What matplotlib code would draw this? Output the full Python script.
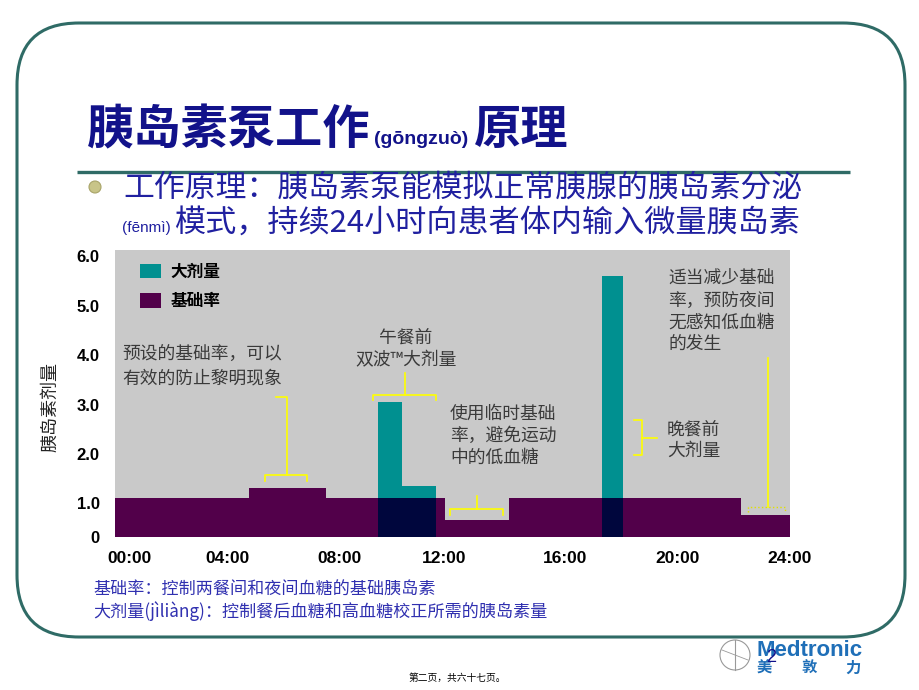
import numpy as np
import matplotlib
matplotlib.use("Agg")
import matplotlib.pyplot as plt
from matplotlib.patches import Patch, FancyBboxPatch, Circle
from matplotlib.transforms import ScaledTranslation

CJK = ["Noto Sans CJK SC", "DejaVu Sans"]
LATIN = ["Liberation Sans", "DejaVu Sans"]
plt.rcParams["font.family"] = CJK

# --- chart data (hours / units per hour) ---
hours = [0, 4, 8, 12, 16, 20, 24]
hour_labels = ["00:00", "04:00", "08:00", "12:00", "16:00", "20:00", "24:00"]
basal_edges = [0, 4.75, 7.5, 11.75, 14, 22.25, 24]
basal_rates = [1.1, 1.32, 1.1, 0.67, 1.1, 0.77]
bolus_start = [9.35, 10.2, 17.3]
bolus_width = [0.85, 1.22, 0.75]
bolus_height = [3.06, 1.36, 5.6]
y_ticks = [1, 2, 3, 4, 5, 6]
y_floor = 0.32   # value at the bottom edge of the plot, shown as "0"
legend_labels = ["大剂量", "基础率"]

TEAL = "#009090"
PURPLE = "#52004a"
NAVY = "#00063d"
GRAY = "#c9c9c9"
YELLOW = "#ffff00"
FRAME = "#2f6b66"
ANN = "#3a3a3a"

W, H = 920, 690
fig = plt.figure(figsize=(W / 100, H / 100), dpi=100)
fig.patch.set_facecolor("white")

# --- the insulin chart ---
ax = fig.add_axes([115 / W, 1 - 537 / H, 675 / W, 287 / H])
ax.set_facecolor(GRAY)
ax.stairs(basal_rates, basal_edges, baseline=0, fill=True, color=PURPLE, zorder=2)
ax.bar(bolus_start, bolus_height, width=bolus_width, align="edge",
       color=TEAL, linewidth=0, zorder=3)
# bolus over basal shows as dark navy
overlap = [basal_rates[np.searchsorted(basal_edges, s, side="right") - 1] for s in bolus_start]
ax.bar(bolus_start, overlap, width=bolus_width, align="edge",
       color=NAVY, linewidth=0, zorder=4)

ax.set_xlim(0, 24)
ax.set_ylim(y_floor, 6.13)
ax.set_xticks(hours, hour_labels)
ax.set_yticks([y_floor] + y_ticks, ["0"] + [f"{v:.1f}" for v in y_ticks])
ax.tick_params(axis="x", length=0, pad=10)
ax.tick_params(axis="y", length=0, pad=11)
for lbl in ax.get_xticklabels():
    lbl.set_fontfamily(LATIN)
    lbl.set_fontweight("bold")
    lbl.set_fontsize(12.5)
for lbl in ax.get_yticklabels():
    lbl.set_fontfamily(LATIN)
    lbl.set_fontweight("bold")
    lbl.set_fontsize(12)
# nudge two hour labels like on the slide
xl = ax.get_xticklabels()
xl[0].set_transform(xl[0].get_transform() + ScaledTranslation(0.15, 0, fig.dpi_scale_trans))
xl[3].set_transform(xl[3].get_transform() + ScaledTranslation(-0.08, 0, fig.dpi_scale_trans))
for s in ax.spines.values():
    s.set_visible(False)

ax.set_ylabel("胰岛素剂量", fontsize=13, color="#222222")
ax.yaxis.set_label_coords(-0.083, 0.453)

handles = [Patch(facecolor=TEAL), Patch(facecolor=PURPLE)]
leg = ax.legend(handles, legend_labels, loc="upper left", bbox_to_anchor=(0.025, 0.985),
                frameon=False, borderpad=0, handlelength=1.26, handleheight=0.96,
                handletextpad=0.55, labelspacing=0.7,
                prop={"family": CJK, "weight": "bold", "size": 12})

# --- slide decoration, pixel coordinates ---
ov = fig.add_axes([0, 0, 1, 1], zorder=10)
ov.set_xlim(0, W)
ov.set_ylim(H, 0)
ov.axis("off")
ov.patch.set_alpha(0)

ov.add_patch(FancyBboxPatch((17, 23), 888, 614, boxstyle="round,pad=0,rounding_size=62",
                            facecolor="none", edgecolor=FRAME, linewidth=2.2))

# title
ov.text(87, 144, "胰岛素泵工作", fontsize=34, fontweight="bold", color="#12128a", va="baseline")
ov.text(374, 144, "(gōngzuò)", fontsize=14, fontweight="bold", color="#12128a",
        va="baseline", family=LATIN)
ov.text(474, 144, "原理", fontsize=34, fontweight="bold", color="#12128a", va="baseline")

# bullet
ov.add_patch(Circle((95, 187), 6, facecolor="#c8c488", edgecolor="#a8a468", linewidth=0.8))
ov.text(123, 197, "工作原理：胰岛素泵能模拟正常胰腺的胰岛素分泌", fontsize=22.2,
        color="#2020a0", va="baseline")
ov.text(122, 232, "(fēnmì)", fontsize=11, color="#2020a0", va="baseline", family=LATIN)
ov.text(174, 232, "模式，持续24小时向患者体内输入微量胰岛素", fontsize=22.4,
        color="#2020a0", va="baseline")
ov.plot([77, 850], [172, 172], color=FRAME, linewidth=2.4, solid_capstyle="butt")


def lines(x, ys, texts, ha="left", size=12.8):
    for y, t in zip(ys, texts):
        ov.text(x, y, t, fontsize=size, color=ANN, ha=ha, va="center")


lines(122, [355, 378], ["预设的基础率，可以", "有效的防止黎明现象"])
lines(406, [338, 360], ["午餐前", "双波™大剂量"], ha="center")
lines(450, [414, 436, 458], ["使用临时基础", "率，避免运动", "中的低血糖"])
lines(667, [430, 451], ["晚餐前", "大剂量"])
lines(668, [279, 301, 323, 344], ["适当减少基础", "率，预防夜间", "无感知低血糖", "的发生"])

# yellow brackets
yk = dict(color=YELLOW, linewidth=1.2)
ov.plot([276, 287, 287], [397, 397, 475], **yk)
ov.plot([265, 265, 307, 307], [481, 475, 475, 481], **yk)
ov.plot([405, 405], [373, 395], **yk)
ov.plot([373, 373, 436, 436], [400, 395, 395, 400], **yk)
ov.plot([477, 477], [496, 509], **yk)
ov.plot([450, 450, 503, 503], [515, 509, 509, 515], **yk)
ov.plot([634, 642, 642, 634], [420, 420, 455, 455], **yk)
ov.plot([642, 657], [438, 438], **yk)
ov.plot([768, 768], [358, 507], **yk)
ov.plot([748, 748, 785, 785], [512, 507, 507, 512], color="#e0e000", linewidth=1, linestyle=":")

# footnotes
ov.text(93, 590, "基础率：控制两餐间和夜间血糖的基础胰岛素", fontsize=12.3,
        color="#3030b0", va="center")
ov.text(93, 611, "大剂量(jìliàng)：控制餐后血糖和高血糖校正所需的胰岛素量", fontsize=12.3,
        color="#3030b0", va="center")
ov.text(457, 678, "第二页，共六十七页。", fontsize=7, color="black", ha="center", va="center")

# logo
ov.add_patch(Circle((735, 655), 15, facecolor="none", edgecolor="#999999", linewidth=0.8))
ov.plot([735, 735], [640, 670], color="#999999", linewidth=0.8)
ov.plot([722, 748], [650, 660], color="#999999", linewidth=0.6)
ov.text(757, 651, "Medtronic", fontsize=16, fontweight="bold", color="#1f6fb8",
        va="center", family=LATIN)
for x, ch in zip([764, 809, 853], ["美", "敦", "力"]):
    ov.text(x, 668, ch, fontsize=11, fontweight="bold", color="#1f6fb8", ha="center", va="center")
ov.text(771, 658, "2", fontsize=13, color="#10108a", ha="center", va="center", family=LATIN)

fig.savefig("out.png", dpi=100)
